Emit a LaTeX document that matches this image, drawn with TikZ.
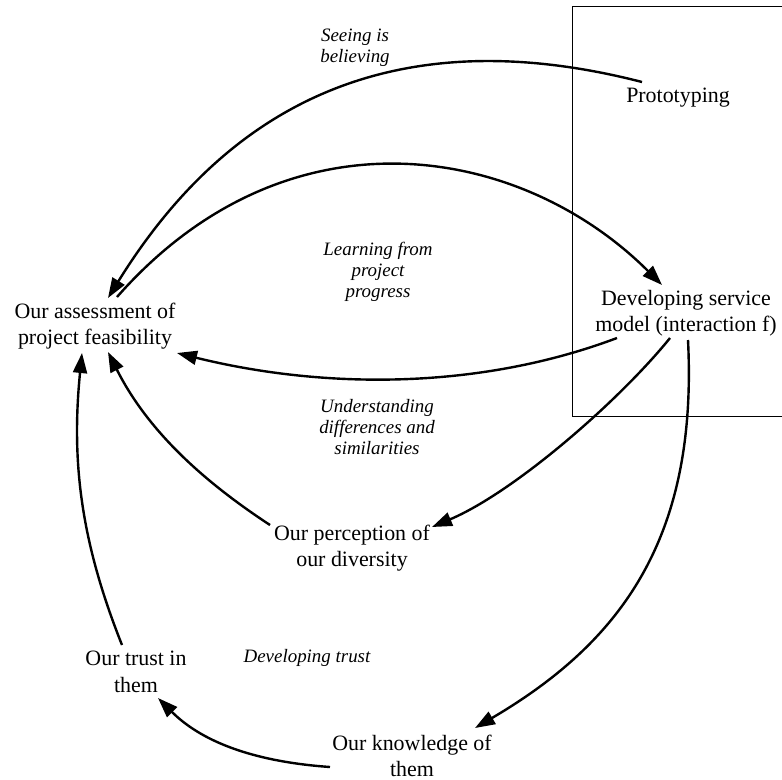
\documentclass[tikz,border=0pt]{standalone}
\usepackage{fontspec}
\setmainfont{Liberation Serif}
\usetikzlibrary{arrows.meta}
\begin{document}
\begin{tikzpicture}[x=1bp,y=-1bp,
  nd/.style={inner sep=0pt, align=center, font=\fontsize{22}{26.5}\selectfont},
  lbl/.style={inner sep=0pt, align=center, font=\fontsize{19}{21}\selectfont\itshape},
  arr/.style={line width=2.4bp, -{Triangle[length=20bp,width=14bp]}}]
\clip (0,0) rectangle (782,780);
\useasboundingbox (0,0) rectangle (782,780);
\draw[line width=1bp] (572,7) rectangle (800,416);

\node[nd] (proto) at (678,98) {Prototyping};
\node[nd] (dev) at (686,313) {Developing service\\model (interaction f)};
\node[nd] (assess) at (95,326) {Our assessment of\\project feasibility};
\node[nd] (perc) at (352,548) {Our perception of\\our diversity};
\node[nd] (trust) at (136,672) {Our trust in\\them};
\node[nd] (know) at (412,756) {Our knowledge of\\them};

\node[lbl] (l1) at (355,48) {Seeing is\\believing};
\node[lbl] (l2) at (378,272) {Learning from\\project\\progress};
\node[lbl] (l3) at (377,427) {Understanding\\differences and\\similarities};
\node[lbl] (l4) at (307,658) {Developing trust};

% Prototyping -> assessment
\draw[arr] ([shift={(-36,-16)}]proto.center) .. controls (370,12) and (214,127) .. ([shift={(13,-28)}]assess.center);
% assessment -> developing
\draw[arr] ([shift={(22,-29)}]assess.center) .. controls (288.6,102) and (522,145) .. ([shift={(-24,-28)}]dev.center);
% developing -> assessment
\draw[arr] ([shift={(-69,25)}]dev.center) .. controls (477.5,390.5) and (322.5,389) .. ([shift={(82,27)}]assess.center);
% developing -> perception
\draw[arr] ([shift={(-16,25)}]dev.center) .. controls (619.6,400.4) and (514.8,491.9) .. ([shift={(80,-21)}]perc.center);
% developing -> knowledge
\draw[arr] ([shift={(2,27)}]dev.center) .. controls (698,540) and (619.5,643) .. ([shift={(63,-28)}]know.center);
% perception -> assessment
\draw[arr] ([shift={(-82,-23)}]perc.center) .. controls (198.6,478.25) and (146,427.6) .. ([shift={(13,26)}]assess.center);
% trust -> assessment
\draw[arr] ([shift={(-14,-27)}]trust.center) .. controls (81.3,542.7) and (71,463) .. ([shift={(-13,27)}]assess.center);
% knowledge -> trust
\draw[arr] ([shift={(-82,11)}]know.center) .. controls (250,761.4) and (200,740) .. ([shift={(22,26)}]trust.center);
\end{tikzpicture}
\end{document}
